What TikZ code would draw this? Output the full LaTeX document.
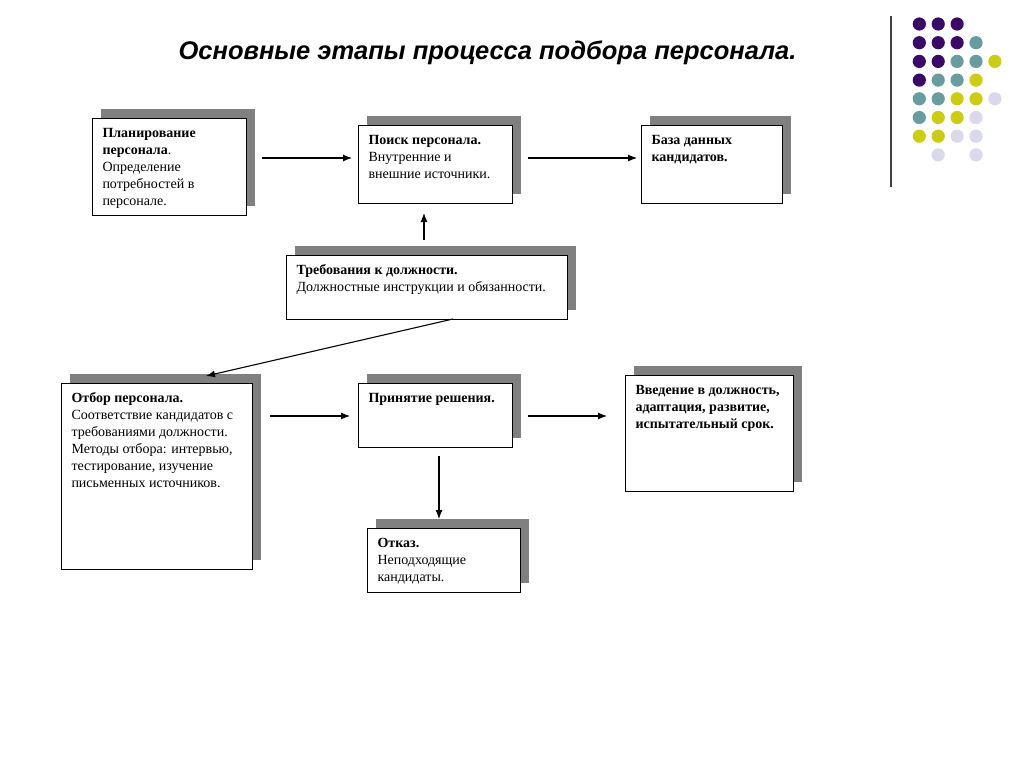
\documentclass[tikz,border=0pt]{standalone}
\usepackage{fontspec}
\setmainfont{Liberation Serif}
\newfontfamily\titlefont{Liberation Sans}
\usetikzlibrary{shadows,calc,arrows.meta}
\definecolor{shadowgray}{HTML}{808080}
\definecolor{dotP}{HTML}{3A0A66}
\definecolor{dotT}{HTML}{689C9E}
\definecolor{dotY}{HTML}{CCCC14}
\definecolor{dotL}{HTML}{D9D9EB}
\newcommand\bx[3]{\parbox[c][\dimexpr#2pt-10pt\relax][t]{\dimexpr#1pt-21pt\relax}{\raggedright\fontsize{14}{17}\selectfont\rule{0pt}{14pt}#3}}
\tikzset{
  box/.style={draw=black, line width=1pt, fill=white, inner xsep=10.5pt, inner ysep=5pt, outer sep=0pt, anchor=north west,
    copy shadow={shadow xshift=9pt, shadow yshift=9pt, fill=shadowgray, draw=none}},
  arr/.style={-{Latex[length=9pt,width=7pt]}, line width=1.1pt},
  titlestyle/.style={font=\titlefont\bfseries\itshape\fontsize{25.5}{30}\selectfont}
}
\begin{document}
\begin{tikzpicture}[x=1pt,y=-1pt]
\useasboundingbox[fill=white] (0,0) rectangle (1024,768);
\node[titlestyle] (title) at (487.5,52.5) {Основные этапы процесса подбора персонала.};
% decorative line and dots
\draw[line width=1.3pt, black!75] (891,16) -- (891,187);
\foreach \c [count=\r from 0] in {
  {dotP,dotP,dotP,none,none},
  {dotP,dotP,dotP,dotT,none},
  {dotP,dotP,dotT,dotT,dotY},
  {dotP,dotT,dotT,dotY,none},
  {dotT,dotT,dotY,dotY,dotL},
  {dotT,dotY,dotY,dotL,none},
  {dotY,dotY,dotL,dotL,none},
  {none,dotL,none,dotL,none}}{
  \foreach \col [count=\k from 0] in \c {
    \edef\tmp{\col}\def\nonestr{none}%
    \ifx\tmp\nonestr\else
      \fill[\col] ({919.3+\k*18.9},{24+\r*18.7}) circle (6.6);
    \fi
  }
}
% boxes
\node[box, minimum width=154pt, minimum height=97pt] (plan) at (92,118)
  {\bx{154}{97}{\textbf{Планирование}\\\textbf{персонала}.\\Определение\\потребностей в\\персонале.}};
\node[box, minimum width=154pt, minimum height=78pt] (poisk) at (358,125)
  {\bx{154}{78}{\textbf{Поиск персонала.}\\Внутренние и\\внешние источники.}};
\node[box, minimum width=141pt, minimum height=78pt] (baza) at (641,125)
  {\bx{141}{78}{\textbf{База данных}\\\textbf{кандидатов.}}};
\node[box, minimum width=281pt, minimum height=64pt] (treb) at (286,255)
  {\bx{281}{64}{\textbf{Требования к должности.}\\Должностные инструкции и обязанности.}};
\node[box, minimum width=191pt, minimum height=186pt] (otbor) at (61,383)
  {\bx{191}{186}{\textbf{Отбор персонала.}\\Соответствие кандидатов с\\требованиями должности.\\Методы отбора: интервью,\\тестирование, изучение\\письменных источников.}};
\node[box, minimum width=154pt, minimum height=64pt] (prin) at (358,383)
  {\bx{154}{64}{\textbf{Принятие решения.}}};
\node[box, minimum width=168pt, minimum height=116pt] (vved) at (625,375)
  {\bx{168}{116}{\textbf{Введение в должность,}\\\textbf{адаптация, развитие,}\\\textbf{испытательный срок.}}};
\node[box, minimum width=153pt, minimum height=64pt] (otkaz) at (367,528)
  {\bx{153}{64}{\textbf{Отказ.}\\Неподходящие\\кандидаты.}};
% connectors
\draw[arr] ($(plan.east)+(16,-8.5)$) -- ($(poisk.west)+(-6,-6)$);
\draw[arr] ($(poisk.east)+(16,-6)$) -- ($(baza.west)+(-4,-6)$);
\draw[arr] ($(treb.north)+(-2.5,-15)$) -- ($(poisk.south)+(-11,10)$);
\draw[arr] ($(treb.south)+(26.5,0)$) -- ($(otbor.north)+(49.5,-7)$);
\draw[arr] ($(otbor.east)+(18,-60)$) -- ($(prin.west)+(-8,1)$);
\draw[arr] ($(prin.east)+(16,1)$) -- ($(vved.west)+(-18,-17)$);
\draw[arr] ($(prin.south)+(4,9)$) -- ($(otkaz.north)+(-4.5,-9)$);
\end{tikzpicture}
\end{document}
